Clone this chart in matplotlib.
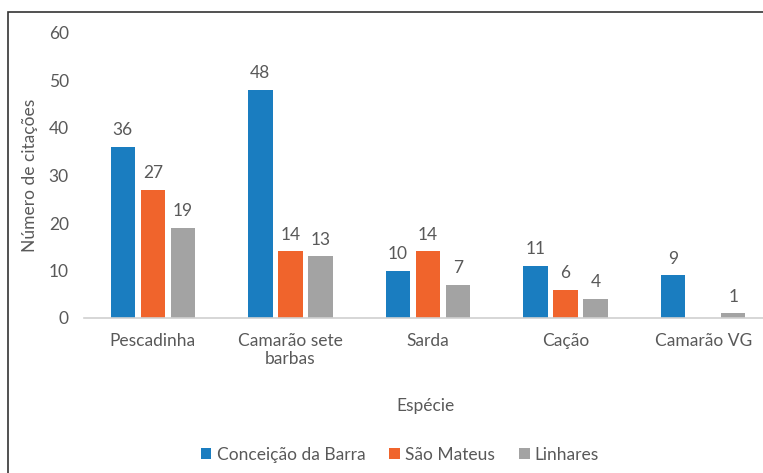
import matplotlib
matplotlib.use("Agg")
import matplotlib.pyplot as plt
import numpy as np
from matplotlib.patches import Rectangle

categories = ["Pescadinha", "Camarão sete\nbarbas", "Sarda", "Cação", "Camarão VG"]
conceicao = [36, 48, 10, 11, 9]
sao_mateus = [27, 14, 14, 6, 0]
linhares = [19, 13, 7, 4, 1]
series_names = ["Conceição da Barra", "São Mateus", "Linhares"]
colors = ["#1a7dc0", "#f0642c", "#a3a3a3"]
yticks = [0, 10, 20, 30, 40, 50, 60]

plt.rcParams['font.family'] = ['Lato', 'DejaVu Sans']
txt = "#595959"
fs = 12.5

W, H = 763, 473
fig = plt.figure(figsize=(W/100, H/100), dpi=100)
ax = fig.add_axes([84/W, 1 - 318/H, (763-84)/W, (318-33)/H])

x = np.arange(len(categories))
bw = 0.178
step = 0.218
for i, (vals, name, c) in enumerate(zip([conceicao, sao_mateus, linhares], series_names, colors)):
    pos = x + (i - 1) * step
    ax.bar(pos, vals, width=bw, color=c, label=name, zorder=2)
    for p, v in zip(pos, vals):
        if v > 0:
            ax.text(p, v + 1.8, str(v), ha='center', va='bottom', fontsize=fs, color=txt)

ax.set_xlim(-0.5, 4.5 - 9/137.5)
ax.set_ylim(0, 60)
ax.set_yticks(yticks)
ax.set_xticks(x)
ax.set_xticklabels(categories, fontsize=fs, color=txt, linespacing=1.1)
ax.tick_params(axis='y', length=0, labelsize=fs, labelcolor=txt, pad=11)
ax.tick_params(axis='x', length=0, pad=11)
for s in ['top', 'right', 'left']:
    ax.spines[s].set_visible(False)
ax.spines['bottom'].set_color('#d0d0d0')
ax.spines['bottom'].set_linewidth(1.2)
ax.set_ylabel("Número de citações", fontsize=fs, color=txt)
ax.yaxis.set_label_coords(-(84-38)/(763-84), (318-175)/(318-33))
ax.set_xlabel("Espécie", fontsize=fs, color=txt)
ax.xaxis.set_label_coords((425-84)/(763-84), -(398-318)/(318-33))

handles, labels = ax.get_legend_handles_labels()
fig.legend(handles, labels, loc='center', bbox_to_anchor=(400/W, 1 - 455/H), ncol=3,
           frameon=False, fontsize=fs, labelcolor=txt, handlelength=0.6, handleheight=0.6,
           handletextpad=0.3, columnspacing=1.4)

fig.patches.append(Rectangle((8/W, -0.1), 1.2, 1 - 12/H + 0.1, transform=fig.transFigure,
                             fill=False, edgecolor='#333333', linewidth=1.2))

fig.savefig("out.png", dpi=100)
